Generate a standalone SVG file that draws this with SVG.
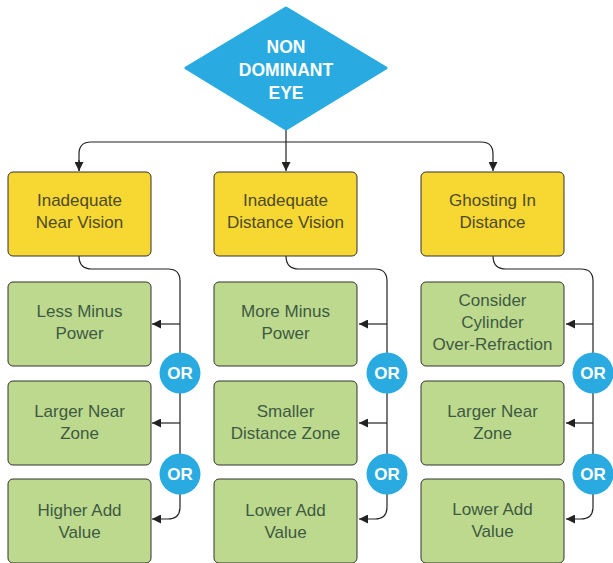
<svg xmlns="http://www.w3.org/2000/svg" width="613" height="563" viewBox="0 0 613 563">
<defs>
<marker id="ah" viewBox="0 0 10 10" refX="10" refY="5" markerWidth="9" markerHeight="9" markerUnits="userSpaceOnUse" orient="auto">
<path d="M0,0 L10,5 L0,10 z" fill="#222"/>
</marker>
</defs>
<style>
.yel{fill:#f7d731;stroke:#333;stroke-width:1}
.grn{fill:#bcd98e;stroke:#333;stroke-width:1}
.t{font-family:"Liberation Sans",Arial,sans-serif;font-size:17px;text-anchor:middle}
.ty{fill:#4d4a2a}
.tg{fill:#3f5a42}
.wb{font-family:"Liberation Sans",Arial,sans-serif;font-weight:bold;fill:#fff;text-anchor:middle}
.or{fill:#29abe2}
.c{fill:none;stroke:#222;stroke-width:1.2}
</style>
<rect width="613" height="563" fill="#fff"/>
<g id="connectors">
<path class="c" d="M286,130 L286,171" marker-end="url(#ah)"/>
<path class="c" d="M79,171 L79,154 Q79,142 91,142 L481,142 Q493,142 493,154 L493,171" marker-end="url(#ah)"/>
<path class="c" d="M79,160 L79,171" marker-end="url(#ah)"/>
<path class="c" d="M79,256 Q79,269 92,269 L168,269 Q180,269 180,281 L180,507 Q180,519 168,519 L152,519" marker-end="url(#ah)"/>
<path class="c" d="M180,324 L152,324" marker-end="url(#ah)"/>
<path class="c" d="M180,423 L152,423" marker-end="url(#ah)"/>
<path class="c" d="M286,256 Q286,269 299,269 L375,269 Q387,269 387,281 L387,507 Q387,519 375,519 L359,519" marker-end="url(#ah)"/>
<path class="c" d="M387,324 L359,324" marker-end="url(#ah)"/>
<path class="c" d="M387,423 L359,423" marker-end="url(#ah)"/>
<path class="c" d="M493,256 Q493,269 506,269 L581,269 Q593,269 593,281 L593,507 Q593,519 581,519 L566,519" marker-end="url(#ah)"/>
<path class="c" d="M593,324 L566,324" marker-end="url(#ah)"/>
<path class="c" d="M593,423 L566,423" marker-end="url(#ah)"/>
</g>
<g id="root">
<polygon points="286,8 386,68 286,129 186,68" fill="#29abe2" stroke="#29abe2" stroke-width="3" stroke-linejoin="round"/>
<text class="wb" font-size="17.5" x="286" y="53">NON</text>
<text class="wb" font-size="17.5" x="286" y="76">DOMINANT</text>
<text class="wb" font-size="17.5" x="286" y="99">EYE</text>
</g>
<g id="n1"><rect class="yel" x="8" y="172" width="143" height="84" rx="5"/>
<text class="t ty" x="79.5" y="206">Inadequate</text><text class="t ty" x="79.5" y="228">Near Vision</text></g>
<g id="n2"><rect class="yel" x="214" y="172" width="143" height="84" rx="5"/>
<text class="t ty" x="285.5" y="206">Inadequate</text><text class="t ty" x="285.5" y="228">Distance Vision</text></g>
<g id="n3"><rect class="yel" x="421" y="172" width="143" height="84" rx="5"/>
<text class="t ty" x="492.5" y="206">Ghosting In</text><text class="t ty" x="492.5" y="228">Distance</text></g>

<g id="g11"><rect class="grn" x="8" y="282" width="143" height="84" rx="5"/>
<text class="t tg" x="79.5" y="317">Less Minus</text><text class="t tg" x="79.5" y="339">Power</text></g>
<g id="g12"><rect class="grn" x="8" y="381" width="143" height="84" rx="5"/>
<text class="t tg" x="79.5" y="417">Larger Near</text><text class="t tg" x="79.5" y="439">Zone</text></g>
<g id="g13"><rect class="grn" x="8" y="479" width="143" height="84" rx="5"/>
<text class="t tg" x="79.5" y="516">Higher Add</text><text class="t tg" x="79.5" y="538">Value</text></g>

<g id="g21"><rect class="grn" x="214" y="282" width="143" height="84" rx="5"/>
<text class="t tg" x="285.5" y="317">More Minus</text><text class="t tg" x="285.5" y="339">Power</text></g>
<g id="g22"><rect class="grn" x="214" y="381" width="143" height="84" rx="5"/>
<text class="t tg" x="285.5" y="417">Smaller</text><text class="t tg" x="285.5" y="439">Distance Zone</text></g>
<g id="g23"><rect class="grn" x="214" y="479" width="143" height="84" rx="5"/>
<text class="t tg" x="285.5" y="516">Lower Add</text><text class="t tg" x="285.5" y="538">Value</text></g>

<g id="g31"><rect class="grn" x="421" y="282" width="143" height="84" rx="5"/>
<text class="t tg" x="492.5" y="306">Consider</text><text class="t tg" x="492.5" y="328">Cylinder</text><text class="t tg" x="492.5" y="350">Over-Refraction</text></g>
<g id="g32"><rect class="grn" x="421" y="381" width="143" height="84" rx="5"/>
<text class="t tg" x="492.5" y="417">Larger Near</text><text class="t tg" x="492.5" y="439">Zone</text></g>
<g id="g33"><rect class="grn" x="421" y="479" width="143" height="84" rx="5"/>
<text class="t tg" x="492.5" y="515">Lower Add</text><text class="t tg" x="492.5" y="537">Value</text></g>

<g id="or1"><circle class="or" cx="180" cy="373" r="20.5"/><text class="wb" font-size="17" x="180" y="379">OR</text></g>
<g id="or2"><circle class="or" cx="180" cy="474" r="20.5"/><text class="wb" font-size="17" x="180" y="480">OR</text></g>
<g id="or3"><circle class="or" cx="387" cy="373" r="20.5"/><text class="wb" font-size="17" x="387" y="379">OR</text></g>
<g id="or4"><circle class="or" cx="387" cy="474" r="20.5"/><text class="wb" font-size="17" x="387" y="480">OR</text></g>
<g id="or5"><circle class="or" cx="593" cy="373" r="20.5"/><text class="wb" font-size="17" x="593" y="379">OR</text></g>
<g id="or6"><circle class="or" cx="593" cy="474" r="20.5"/><text class="wb" font-size="17" x="593" y="480">OR</text></g>
</svg>
